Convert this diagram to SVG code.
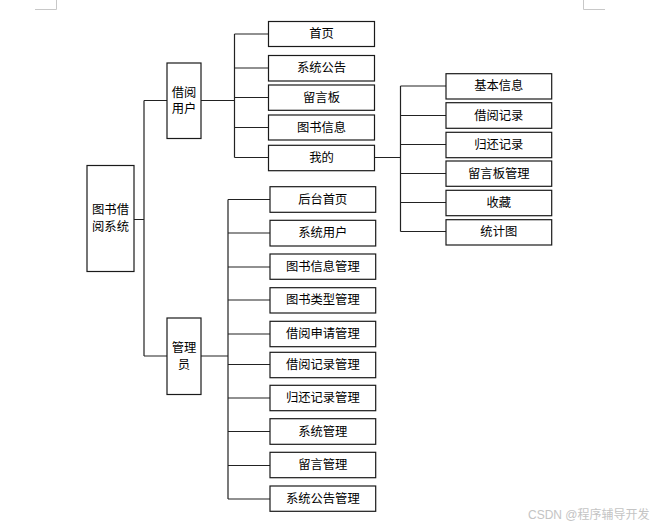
<svg xmlns="http://www.w3.org/2000/svg" width="657" height="528" viewBox="0 0 657 528">
<style>
.box{fill:#fff;stroke:#1a1a1a;stroke-width:1.2}
.t{font-family:"Liberation Sans","Noto Sans CJK SC",sans-serif;font-size:12.3px;fill:#000;text-anchor:middle;dominant-baseline:central}
.c{fill:none;stroke:#222;stroke-width:1.2}
.mark{fill:none;stroke:#c8c8c8;stroke-width:1}
.wm{font-family:"Liberation Sans","Noto Sans CJK SC",sans-serif;font-size:12px;fill:#c4c4c4}
</style>
<rect width="657" height="528" fill="#fff"/>
<path class="mark" d="M56.5 0V9.5H35M583.5 0V9.5H605"/>
<g id="connectors">
<path class="c" d="M134 219.5H144M144 100.5V356M144 100.5H167M144 356H167"/>
<path class="c" d="M201 100.5H234.5M234.5 34V157.5M234.5 34H268M234.5 68H268M234.5 97.5H268M234.5 127.5H268M234.5 157.5H268"/>
<path class="c" d="M375 157.5H400.5M400.5 86V231.5M400.5 86H446M400.5 115.5H446M400.5 144.5H446M400.5 173.5H446M400.5 202.5H446M400.5 231.5H446"/>
<path class="c" d="M201 356H228M228 199.5V499M228 199.5H270M228 233H270M228 267H270M228 300H270M228 334H270M228 364.5H270M228 398H270M228 431.5H270M228 465.5H270M228 499H270"/>
</g>
<g id="root"><rect class="box" x="87" y="165.5" width="47" height="106"/><text class="t" x="110.5" y="209.5">图书借</text><text class="t" x="110.5" y="227">阅系统</text></g>
<g id="user"><rect class="box" x="167" y="63" width="34" height="75.5"/><text class="t" x="184" y="93">借阅</text><text class="t" x="184" y="108.5">用户</text></g>
<g id="admin"><rect class="box" x="167" y="318" width="34" height="76.5"/><text class="t" x="184" y="348">管理</text><text class="t" x="184" y="364.5">员</text></g>
<g id="u1"><rect class="box" x="268.5" y="21.5" width="106" height="25"/><text class="t" x="321.5" y="34">首页</text></g>
<g id="u2"><rect class="box" x="268.5" y="55.5" width="106" height="25.5"/><text class="t" x="321.5" y="68.3">系统公告</text></g>
<g id="u3"><rect class="box" x="268.5" y="85" width="106" height="25.3"/><text class="t" x="321.5" y="97.7">留言板</text></g>
<g id="u4"><rect class="box" x="268.5" y="115" width="106" height="25"/><text class="t" x="321.5" y="127.5">图书信息</text></g>
<g id="u5"><rect class="box" x="268.5" y="145.3" width="106" height="25.4"/><text class="t" x="321.5" y="158">我的</text></g>
<g id="m1"><rect class="box" x="446" y="73.7" width="105.7" height="25.3"/><text class="t" x="498.8" y="86.3">基本信息</text></g>
<g id="m2"><rect class="box" x="446" y="102.7" width="105.7" height="25.6"/><text class="t" x="498.8" y="115.5">借阅记录</text></g>
<g id="m3"><rect class="box" x="446" y="132.3" width="105.7" height="25.4"/><text class="t" x="498.8" y="145">归还记录</text></g>
<g id="m4"><rect class="box" x="446" y="161" width="105.7" height="25.3"/><text class="t" x="498.8" y="173.7">留言板管理</text></g>
<g id="m5"><rect class="box" x="446" y="190.3" width="105.7" height="25.4"/><text class="t" x="498.8" y="203">收藏</text></g>
<g id="m6"><rect class="box" x="446" y="219.7" width="105.7" height="25.3"/><text class="t" x="498.8" y="232.3">统计图</text></g>
<g id="a1"><rect class="box" x="270" y="186.7" width="105.7" height="25.6"/><text class="t" x="322.8" y="199.5">后台首页</text></g>
<g id="a2"><rect class="box" x="270" y="220.3" width="105.7" height="25.7"/><text class="t" x="322.8" y="233.2">系统用户</text></g>
<g id="a3"><rect class="box" x="270" y="254" width="105.7" height="25.3"/><text class="t" x="322.8" y="266.7">图书信息管理</text></g>
<g id="a4"><rect class="box" x="270" y="287.7" width="105.7" height="25.3"/><text class="t" x="322.8" y="300.3">图书类型管理</text></g>
<g id="a5"><rect class="box" x="270" y="321.3" width="105.7" height="25.4"/><text class="t" x="322.8" y="334">借阅申请管理</text></g>
<g id="a6"><rect class="box" x="270" y="352.3" width="105.7" height="25.4"/><text class="t" x="322.8" y="365">借阅记录管理</text></g>
<g id="a7"><rect class="box" x="270" y="385.3" width="105.7" height="25.4"/><text class="t" x="322.8" y="398">归还记录管理</text></g>
<g id="a8"><rect class="box" x="270" y="418.7" width="105.7" height="25.6"/><text class="t" x="322.8" y="431.5">系统管理</text></g>
<g id="a9"><rect class="box" x="270" y="452.3" width="105.7" height="25.4"/><text class="t" x="322.8" y="465">留言管理</text></g>
<g id="a10"><rect class="box" x="270" y="486" width="105.7" height="25.3"/><text class="t" x="322.8" y="498.7">系统公告管理</text></g>
<text class="wm" x="528" y="518.5">CSDN @程序辅导开发</text>
</svg>
